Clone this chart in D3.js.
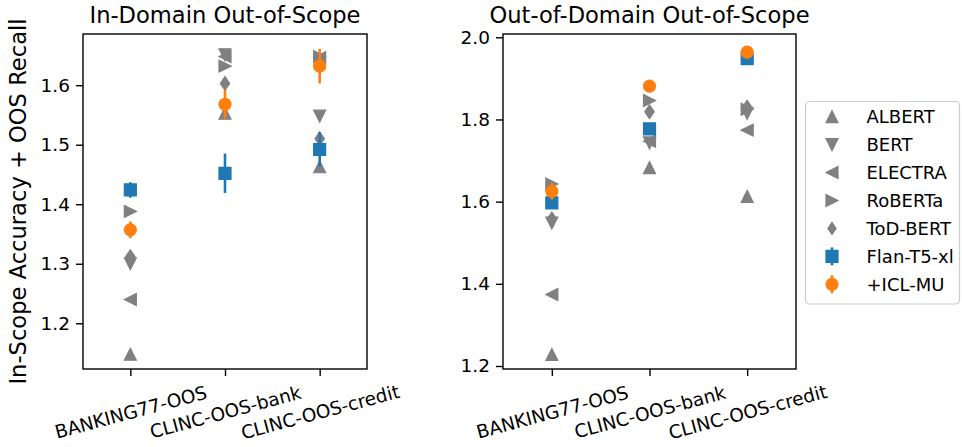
<!DOCTYPE html>
<html>
<head>
<meta charset="utf-8">
<script src="https://cdn.jsdelivr.net/npm/d3@7"></script>
<style>
  html, body { margin: 0; padding: 0; background: #ffffff; }
  svg { display: block; font-family: "DejaVu Sans", sans-serif; }
</style>
</head>
<body>
<svg id="chart" width="962" height="447"></svg>
<script>
// ---------------- data ----------------
const categories = ["BANKING77-OOS", "CLINC-OOS-bank", "CLINC-OOS-credit"];
const baselineModels = ["ALBERT", "BERT", "ELECTRA", "RoBERTa", "ToD-BERT"];

// In-Domain Out-of-Scope
const idALBERT   = [1.148, 1.553, 1.463];
const idBERT     = [1.300, 1.651, 1.548];
const idELECTRA  = [1.240, 1.648, 1.646];
const idRoBERTa  = [1.388, 1.632, 1.648];
const idToDBERT  = [1.312, 1.603, 1.510];
const idFlan     = [1.424, 1.452, 1.492];
const idFlanErr  = [0.013, 0.033, 0.029];
const idICL      = [1.357, 1.568, 1.632];
const idICLErr   = [0.014, 0.024, 0.029];

// Out-of-Domain Out-of-Scope
const odALBERT   = [1.228, 1.683, 1.613];
const odBERT     = [1.548, 1.743, 1.815];
const odELECTRA  = [1.374, 1.747, 1.774];
const odRoBERTa  = [1.643, 1.846, 1.825];
const odToDBERT  = [1.558, 1.819, 1.830];
const odFlan     = [1.597, 1.777, 1.948];
const odFlanErr  = [0.005, 0.005, 0.005];
const odICL      = [1.625, 1.881, 1.964];
const odICLErr   = [0.020, 0.004, 0.006];

const leftTicks  = [1.2, 1.3, 1.4, 1.5, 1.6];
const rightTicks = [1.2, 1.4, 1.6, 1.8, 2.0];

const panelTitles = ["In-Domain Out-of-Scope", "Out-of-Domain Out-of-Scope"];
const yLabel = "In-Scope Accuracy + OOS Recall";
const legendLabels = ["ALBERT", "BERT", "ELECTRA", "RoBERTa", "ToD-BERT", "Flan-T5-xl", "+ICL-MU"];

// ---------------- style ----------------
const GRAY = "#808080", BLUE = "#1f77b4", ORANGE = "#ff7f0e";
const MS = 12;        // marker size px
const TICK_FONT = 18.5;

const svg = d3.select("#chart");
svg.append("rect").attr("width", 962).attr("height", 447).attr("fill", "#fff");

function markerPath(shape, s) {
  const h = s / 2;
  switch (shape) {
    case "up":    return `M0,${-h}L${h},${h}L${-h},${h}Z`;
    case "down":  return `M0,${h}L${h},${-h}L${-h},${-h}Z`;
    case "left":  return `M${-h},0L${h},${-h}L${h},${h}Z`;
    case "right": return `M${h},0L${-h},${-h}L${-h},${h}Z`;
    case "thin_diamond": {
      const d = h * 1.15;
      return `M0,${-d}L${0.68*d},0L0,${d}L${-0.68*d},0Z`;
    }
    case "square": return `M${-h},${-h}H${h}V${h}H${-h}Z`;
    case "circle": return d3.symbol(d3.symbolCircle, Math.PI * h * h)();
  }
}
const baseShapes = ["up", "down", "left", "right", "thin_diamond"];

function drawPanel(cfg) {
  const x = d3.scalePoint().domain(categories).range([cfg.x0, cfg.x1]).padding(0.5);
  const y = d3.scaleLinear().domain(cfg.yDomain).range([cfg.y1, cfg.y0]);
  const g = svg.append("g");

  // axes
  const ya = g.append("g").attr("transform", `translate(${cfg.x0},0)`)
    .call(d3.axisLeft(y).tickValues(cfg.ticks).tickFormat(d3.format(".1f"))
      .tickSize(7).tickPadding(6));
  ya.select(".domain").remove();
  ya.selectAll("line").attr("stroke", "#000").attr("stroke-width", 1.4);
  ya.selectAll("text").attr("font-size", TICK_FONT).attr("fill", "#000")
    .attr("font-family", "DejaVu Sans");

  const xa = g.append("g").attr("transform", `translate(0,${cfg.y1})`)
    .call(d3.axisBottom(x).tickSize(7));
  xa.select(".domain").remove();
  xa.selectAll("line").attr("stroke", "#000").attr("stroke-width", 1.4);
  xa.selectAll("text")
    .attr("font-size", TICK_FONT).attr("fill", "#000").attr("font-family", "DejaVu Sans")
    .attr("y", 0).attr("dy", "0.36em").attr("text-anchor", "middle")
    .attr("transform", "translate(0,43) rotate(-15)");

  // title
  g.append("text").attr("x", (cfg.x0 + cfg.x1) / 2).attr("y", 23)
    .attr("text-anchor", "middle").attr("font-size", 22.6).attr("fill", "#000")
    .text(cfg.title);

  // baseline models
  cfg.base.forEach((vals, i) => {
    g.append("g").selectAll("path").data(vals).join("path")
      .attr("d", markerPath(baseShapes[i], MS))
      .attr("transform", (d, j) => `translate(${x(categories[j])},${y(d)})`)
      .attr("fill", GRAY).attr("stroke", GRAY).attr("stroke-width", 1.2);
  });

  // error-bar series
  function errSeries(vals, errs, color, shape) {
    const s = g.append("g");
    s.selectAll("line").data(vals).join("line")
      .attr("x1", (d, j) => x(categories[j])).attr("x2", (d, j) => x(categories[j]))
      .attr("y1", (d, j) => y(d - errs[j])).attr("y2", (d, j) => y(d + errs[j]))
      .attr("stroke", color).attr("stroke-width", 2.6);
    s.selectAll("path").data(vals).join("path")
      .attr("d", markerPath(shape, MS))
      .attr("transform", (d, j) => `translate(${x(categories[j])},${y(d)})`)
      .attr("fill", color).attr("stroke", color).attr("stroke-width", 1.2);
  }
  errSeries(cfg.flan, cfg.flanErr, BLUE, "square");
  errSeries(cfg.icl, cfg.iclErr, ORANGE, "circle");

  // frame
  g.append("rect").attr("x", cfg.x0).attr("y", cfg.y0)
    .attr("width", cfg.x1 - cfg.x0).attr("height", cfg.y1 - cfg.y0)
    .attr("fill", "none").attr("stroke", "#000").attr("stroke-width", 1.4);
}

drawPanel({
  x0: 83, x1: 367, y0: 34, y1: 369,
  yDomain: [1.1232, 1.686], ticks: leftTicks, title: panelTitles[0],
  base: [idALBERT, idBERT, idELECTRA, idRoBERTa, idToDBERT],
  flan: idFlan, flanErr: idFlanErr, icl: idICL, iclErr: idICLErr
});
drawPanel({
  x0: 503, x1: 796, y0: 34, y1: 369,
  yDomain: [1.1927, 2.008], ticks: rightTicks, title: panelTitles[1],
  base: [odALBERT, odBERT, odELECTRA, odRoBERTa, odToDBERT],
  flan: odFlan, flanErr: odFlanErr, icl: odICL, iclErr: odICLErr
});

// y label
svg.append("text").attr("transform", "translate(26,201.5) rotate(-90)")
  .attr("text-anchor", "middle").attr("font-size", 22.6).attr("fill", "#000")
  .text(yLabel);

// legend
const lg = svg.append("g");
lg.append("rect").attr("x", 805.5).attr("y", 101.5).attr("width", 154).attr("height", 202.5)
  .attr("rx", 4).attr("fill", "#fff").attr("fill-opacity", 0.8)
  .attr("stroke", "#cccccc").attr("stroke-width", 1.2);
const legShapes = baseShapes.concat(["square", "circle"]);
const legColors = [GRAY, GRAY, GRAY, GRAY, GRAY, BLUE, ORANGE];
const rowY = d3.scaleLinear().domain([0, legendLabels.length - 1]).range([116.7, 284.3]);
legendLabels.forEach((lab, i) => {
  const cy = rowY(i);
  if (i >= 5) {
    lg.append("line").attr("x1", 832).attr("x2", 832).attr("y1", cy - 9).attr("y2", cy + 9)
      .attr("stroke", legColors[i]).attr("stroke-width", 2.6);
  }
  lg.append("path").attr("d", markerPath(legShapes[i], i === 4 ? 10.5 : MS))
    .attr("transform", `translate(832,${cy})`)
    .attr("fill", legColors[i]).attr("stroke", legColors[i]).attr("stroke-width", 1.2);
  lg.append("text").attr("x", 866.5).attr("y", cy).attr("dy", "0.36em")
    .attr("font-size", 18).attr("fill", "#000").text(lab);
});
</script>
</body>
</html>
